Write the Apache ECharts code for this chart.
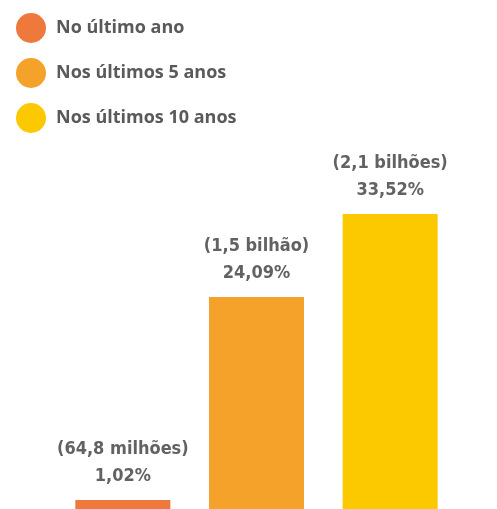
<!DOCTYPE html>
<html>
<head>
<meta charset="utf-8">
<script src="https://cdn.jsdelivr.net/npm/echarts@6/dist/echarts.min.js"></script>
<style>
  html, body { margin: 0; padding: 0; background: #fff; }
  #chart { width: 497px; height: 509px; }
</style>
</head>
<body>
<div id="chart"></div>
<script>
const categories = ["No último ano", "Nos últimos 5 anos", "Nos últimos 10 anos"];
const percents = [1.02, 24.09, 33.52];
const people = ["(64,8 milhões)", "(1,5 bilhão)", "(2,1 bilhões)"];
const colors = ["#EF793C", "#F5A22B", "#FCC800"];

const chart = echarts.init(document.getElementById("chart"));

// one series per category so each gets a legend entry
const series = categories.map((name, i) => ({
  name: name,
  type: "bar",
  barWidth: 95,
  barGap: "-100%",
  itemStyle: { color: colors[i] },
  data: categories.map((c, j) => (j === i ? percents[i] : "-")),
  label: {
    show: true,
    position: "top",
    distance: 10,
    color: "#626262",
    fontFamily: "DejaVu Sans Condensed",
    fontWeight: "bold",
    fontSize: 18,
    lineHeight: 27,
    formatter: () => people[i] + "\n" + percents[i].toFixed(2).replace(".", ",") + "%",
  },
}));

chart.setOption({
  animation: false,
  legend: {
    orient: "vertical",
    left: 16,
    top: 13,
    padding: 0,
    icon: "circle",
    itemWidth: 30,
    itemHeight: 30,
    itemGap: 15,
    textStyle: {
      color: "#5a5a5a",
      fontFamily: "Open Sans",
      fontWeight: "bold",
      fontSize: 18,
      padding: [0, 0, 0, 5],
    },
    selectedMode: false,
  },
  grid: { left: 56, right: 40, top: 157, bottom: 0 },
  xAxis: {
    type: "category",
    data: categories,
    axisLine: { show: false },
    axisTick: { show: false },
    axisLabel: { show: false },
  },
  yAxis: {
    type: "value",
    min: 0,
    max: 40,
    show: false,
  },
  series: series,
});
</script>
</body>
</html>
